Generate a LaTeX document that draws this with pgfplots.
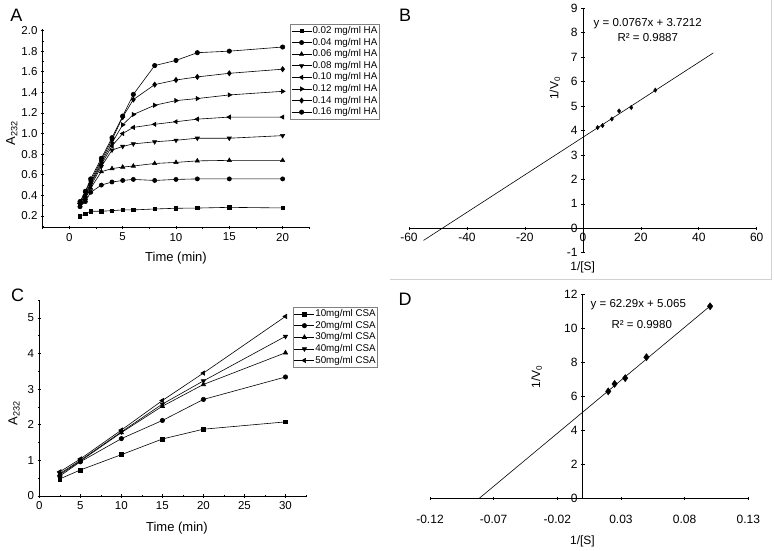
\documentclass[border=0pt]{standalone}
\usepackage{pgfplots}
\pgfplotsset{compat=1.18}
\usepackage{fontspec}
\setmainfont{Liberation Sans}

\pgfplotsset{
  myaxis/.style={scale only axis, clip=false,
    axis line style={-, line width=0.7pt},
    tick style={black, line width=0.6pt}, tick align=outside,
    major tick length=3.5pt, minor tick length=2pt,
    tick label style={font=\fontsize{11.5}{13}\selectfont},
    /pgf/number format/assume math mode=true},
  dl/.style={black, line width=0.6pt, mark options={solid, fill=black}},
  leg/.style={legend cell align=left,
    legend style={draw=gray, line width=0.4pt, font=\fontsize{9.8}{11}\selectfont,
      inner sep=1pt, row sep=0pt,
      nodes={inner sep=0.6pt, text height=7.8pt, text depth=2.6pt}},
    legend image code/.code={\draw[mark repeat=2, mark phase=2, ##1] plot coordinates {(0pt,0pt) (10pt,0pt) (20pt,0pt)};}}
}

\begin{document}
\begin{tikzpicture}
\useasboundingbox (0pt,0pt) rectangle (774pt,-550pt);

% Panel letters
\node[font=\fontsize{18}{20}\selectfont] at (16.5pt,-15pt) {A};
\node[font=\fontsize{18}{20}\selectfont] at (405pt,-15pt) {B};
\node[font=\fontsize{18}{20}\selectfont] at (17.5pt,-295pt) {C};
\node[font=\fontsize{18}{20}\selectfont] at (405pt,-299pt) {D};

% border of panel B
\draw[gray!35, line width=0.8pt] (390pt,-279.5pt) -- (771pt,-279.5pt) -- (771pt,0pt);

% ---------------- Panel A ----------------
\begin{axis}[myaxis, at={(42.7pt,-227.7pt)}, anchor=south west,
  width=266.6pt, height=198.4pt,
  xmin=-2.5, xmax=22.5, ymin=0.0863, ymax=2.012,
  axis x line=bottom, axis y line=left, axis line style={-},
  xtick={0,5,10,15,20},
  minor xtick={-2.5,2.5,7.5,12.5,17.5,22.5},
  ytick={0.2,0.4,0.6,0.8,1.0,1.2,1.4,1.6,1.8,2.0},
  yticklabels={0.2,0.4,0.6,0.8,1.0,1.2,1.4,1.6,1.8,2.0},
  minor ytick={0.1,0.3,0.5,0.7,0.9,1.1,1.3,1.5,1.7,1.9},
  leg, legend style={at={(0.928,1.027)}, anchor=north west}]
\addplot[dl, mark=square*, mark size=1.7pt] coordinates {(1,0.197) (1.5,0.222) (2,0.246) (3,0.246) (4,0.252) (5,0.259) (6,0.259) (8,0.268) (10,0.275) (12,0.277) (15,0.284) (20,0.278)};
\addlegendentry{0.02 mg/ml HA}
\addplot[dl, mark=*, mark size=2.1pt] coordinates {(1,0.29) (1.5,0.34) (2,0.43) (3,0.50) (4,0.53) (5,0.545) (6,0.555) (8,0.545) (10,0.555) (12,0.56) (15,0.56) (20,0.56)};
\addlegendentry{0.04 mg/ml HA}
\addplot[dl, mark=triangle*, mark size=2.4pt] coordinates {(1,0.30) (1.5,0.37) (2,0.47) (3,0.63) (4,0.66) (5,0.675) (6,0.685) (8,0.71) (10,0.72) (12,0.735) (15,0.74) (20,0.74)};
\addlegendentry{0.06 mg/ml HA}
\addplot[dl, mark=triangle*, mark size=2.4pt, mark options={rotate=180}] coordinates {(1,0.31) (1.5,0.38) (2,0.49) (3,0.68) (4,0.84) (5,0.875) (6,0.90) (8,0.92) (10,0.935) (12,0.955) (15,0.955) (20,0.98)};
\addlegendentry{0.08 mg/ml HA}
\addplot[dl, mark=triangle*, mark size=2.4pt, mark options={rotate=90}] coordinates {(1,0.32) (1.5,0.40) (2,0.51) (3,0.70) (4,0.88) (5,1.0) (6,1.06) (8,1.09) (10,1.115) (12,1.14) (15,1.16) (20,1.16)};
\addlegendentry{0.10 mg/ml HA}
\addplot[dl, mark=triangle*, mark size=2.4pt, mark options={rotate=-90}] coordinates {(1,0.32) (1.5,0.41) (2,0.52) (3,0.72) (4,0.91) (5,1.085) (6,1.185) (8,1.275) (10,1.32) (12,1.34) (15,1.375) (20,1.41)};
\addlegendentry{0.12 mg/ml HA}
\addplot[dl, mark=diamond*, mark size=2.6pt] coordinates {(1,0.33) (1.5,0.43) (2,0.54) (3,0.74) (4,0.94) (5,1.16) (6,1.33) (8,1.475) (10,1.52) (12,1.55) (15,1.585) (20,1.625)};
\addlegendentry{0.14 mg/ml HA}
\addplot[dl, mark=*, mark size=2.2pt] coordinates {(1,0.34) (1.5,0.44) (2,0.56) (3,0.76) (4,0.96) (5,1.17) (6,1.38) (8,1.66) (10,1.71) (12,1.785) (15,1.80) (20,1.84)};
\addlegendentry{0.16 mg/ml HA}
\node[font=\fontsize{13}{15}\selectfont, rotate=90] at (axis description cs:-0.116,0.477) {A\textsubscript{232}};
\node[font=\fontsize{13}{15}\selectfont] at (axis description cs:0.5,-0.153) {Time (min)};
\end{axis}

% ---------------- Panel B ----------------
\begin{axis}[myaxis, at={(409pt,-252.7pt)}, anchor=south west,
  width=347.7pt, height=244.4pt,
  xmin=-60, xmax=60, ymin=-1, ymax=9,
  axis lines=middle, axis line style={-},
  hide obscured x ticks=false, hide obscured y ticks=false,
  tick label style={font=\fontsize{12}{14}\selectfont},
  xtick={-60,-40,-20,0,20,40,60},
  ytick={-1,0,1,2,3,4,5,6,7,8,9}]
\addplot[black, line width=0.6pt, no markers] coordinates {(-55,-0.4973) (45,7.1727)};
\addplot[only marks, mark=diamond*, mark size=2.2pt, black] coordinates {(5.1,4.12) (6.8,4.20) (10.0,4.47) (12.5,4.80) (16.7,4.94) (25.0,5.65)};
\node[font=\fontsize{11.5}{13}\selectfont] at (axis cs:22.4,8.36) {y = 0.0767x + 3.7212};
\node[font=\fontsize{11.5}{13}\selectfont] at (axis cs:22.4,7.81) {R² = 0.9887};
\node[font=\fontsize{12}{14}\selectfont, rotate=90] at (axis description cs:0.42,0.673) {1/V\textsubscript{0}};
\node[font=\fontsize{12}{14}\selectfont] at (axis description cs:0.4996,-0.06) {1/[S]};
\end{axis}

% ---------------- Panel C ----------------
\begin{axis}[myaxis, at={(39.3pt,-496pt)}, anchor=south west,
  width=266.7pt, height=196pt,
  xmin=0, xmax=32.5, ymin=0, ymax=5.5,
  axis x line=bottom, axis y line=left, axis line style={-},
  xtick={0,5,10,15,20,25,30},
  minor xtick={2.5,7.5,12.5,17.5,22.5,27.5,32.5},
  ytick={0,1,2,3,4,5},
  minor ytick={0.5,1.5,2.5,3.5,4.5,5.5},
  leg, legend style={at={(0.951,0.964)}, anchor=north west}]
\addplot[dl, mark=square*, mark size=1.9pt] coordinates {(2.5,0.48) (5,0.73) (10,1.16) (15,1.60) (20,1.875) (30,2.08)};
\addlegendentry{10mg/ml CSA}
\addplot[dl, mark=*, mark size=2.2pt] coordinates {(2.5,0.56) (5,0.96) (10,1.61) (15,2.12) (20,2.71) (30,3.34)};
\addlegendentry{20mg/ml CSA}
\addplot[dl, mark=triangle*, mark size=2.5pt] coordinates {(2.5,0.60) (5,0.98) (10,1.78) (15,2.52) (20,3.13) (30,4.02)};
\addlegendentry{30mg/ml CSA}
\addplot[dl, mark=triangle*, mark size=2.5pt, mark options={rotate=180}] coordinates {(2.5,0.63) (5,1.00) (10,1.80) (15,2.58) (20,3.23) (30,4.48)};
\addlegendentry{40mg/ml CSA}
\addplot[dl, mark=triangle*, mark size=2.5pt, mark options={rotate=90}] coordinates {(2.5,0.68) (5,1.04) (10,1.85) (15,2.68) (20,3.45) (30,5.04)};
\addlegendentry{50mg/ml CSA}
\node[font=\fontsize{13}{15}\selectfont, rotate=90] at (axis description cs:-0.095,0.422) {A\textsubscript{232}};
\node[font=\fontsize{13}{15}\selectfont] at (axis description cs:0.516,-0.163) {Time (min)};
\end{axis}

% ---------------- Panel D ----------------
\begin{axis}[myaxis, at={(430pt,-498.3pt)}, anchor=south west,
  width=318.3pt, height=204.3pt,
  xmin=-0.12, xmax=0.13, ymin=0, ymax=12,
  axis lines=middle, axis line style={-},
  hide obscured x ticks=false, hide obscured y ticks=false,
  tick label style={font=\fontsize{12}{14}\selectfont},
  xtick={-0.12,-0.07,-0.02,0.03,0.08,0.13},
  xticklabels={-0.12,-0.07,-0.02,0.03,0.08,0.13},
  xticklabel style={yshift=-12pt},
  ytick={0,2,4,6,8,10,12}]
\addplot[black, line width=0.6pt, no markers] coordinates {(-0.0813,0) (0.101,11.356)};
\addplot[only marks, mark=diamond*, mark size=3.6pt, black] coordinates {(0.02,6.28) (0.025,6.72) (0.0333,7.06) (0.05,8.29) (0.1,11.28)};
\node[font=\fontsize{11.5}{13}\selectfont] at (axis cs:0.0436,11.35) {y = 62.29x + 5.065};
\node[font=\fontsize{11.5}{13}\selectfont] at (axis cs:0.0463,10.18) {R² = 0.9980};
\node[font=\fontsize{12}{14}\selectfont, rotate=90] at (axis description cs:0.335,0.595) {1/V\textsubscript{0}};
\node[font=\fontsize{12}{14}\selectfont] at (axis description cs:0.479,-0.212) {1/[S]};
\end{axis}
\end{tikzpicture}
\end{document}
